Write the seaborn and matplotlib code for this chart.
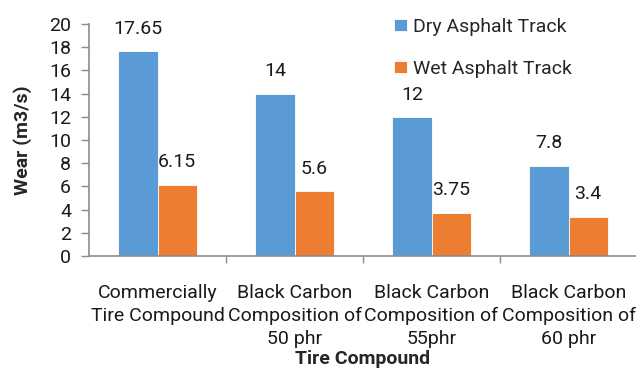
import matplotlib
matplotlib.use("Agg")
import matplotlib.pyplot as plt
from matplotlib.ticker import FixedLocator
import seaborn as sns
import pandas as pd

categories = [
    "Commercially\nTire Compound",
    "Black Carbon\nComposition of\n50 phr",
    "Black Carbon\nComposition of\n55phr",
    "Black Carbon\nComposition of\n60 phr",
]
dry_wear = [17.65, 14, 12, 7.8]
wet_wear = [6.15, 5.6, 3.75, 3.4]
dry_labels = ["17.65", "14", "12", "7.8"]
wet_labels = ["6.15", "5.6", "3.75", "3.4"]
series = ["Dry Asphalt Track", "Wet Asphalt Track"]
colors = ["#5B9BD5", "#ED7D31"]

sns.set_theme(style="white")
plt.rcParams["font.family"] = ["Roboto", "DejaVu Sans"]

df = pd.DataFrame({
    "compound": categories * 2,
    "wear": dry_wear + wet_wear,
    "track": [series[0]] * 4 + [series[1]] * 4,
})

fig = plt.figure(figsize=(6.36, 3.69), dpi=100)
ax = fig.add_axes([89 / 636, 1 - 256 / 369, (637 - 89) / 636, (256 - 24) / 369])

sns.barplot(data=df, x="compound", y="wear", hue="track", palette=colors,
            width=0.57, saturation=1, ax=ax, edgecolor="white", linewidth=0.6)

# value labels above each bar
for cont, labels in zip(ax.containers, [dry_labels, wet_labels]):
    ax.bar_label(cont, labels=labels, padding=9.5, fontsize=14, color="#1a1a1a")

ax.set_ylim(0, 20)
ax.set_xlim(-0.5, 3.5)
ax.set_yticks(range(0, 21, 2))
ax.tick_params(axis="y", labelsize=14, length=6, width=1, color="#8c8c8c",
               left=True, pad=7, labelcolor="#1a1a1a")
ax.tick_params(axis="x", which="major", length=0, pad=20, labelsize=14,
               labelcolor="#1a1a1a")
ax.xaxis.set_minor_locator(FixedLocator([0.5, 1.5, 2.5]))
ax.tick_params(axis="x", which="minor", bottom=True, length=5, width=1,
               color="#8c8c8c")
for lbl in ax.get_xticklabels():
    lbl.set_linespacing(1.36)

for side in ["top", "right"]:
    ax.spines[side].set_visible(False)
for side in ["left", "bottom"]:
    ax.spines[side].set_color("#8c8c8c")
    ax.spines[side].set_linewidth(1.2)

ax.set_ylabel("Wear (m3/s)", fontsize=14, fontweight="bold")
ax.yaxis.set_label_coords(-0.104, 0.5)
ax.set_xlabel("Tire Compound", fontsize=14, fontweight="bold")
ax.xaxis.set_label_coords(0.5, -0.405)

handles, labs = ax.get_legend_handles_labels()
ax.legend(handles, labs, loc="upper left", bbox_to_anchor=(394 / 636, 1 - 18 / 369),
          bbox_transform=fig.transFigure, frameon=False, fontsize=14,
          handlelength=0.67, handleheight=0.62, handletextpad=0.3,
          labelspacing=1.22, borderaxespad=0, borderpad=0)

fig.savefig("out.png", dpi=100)
